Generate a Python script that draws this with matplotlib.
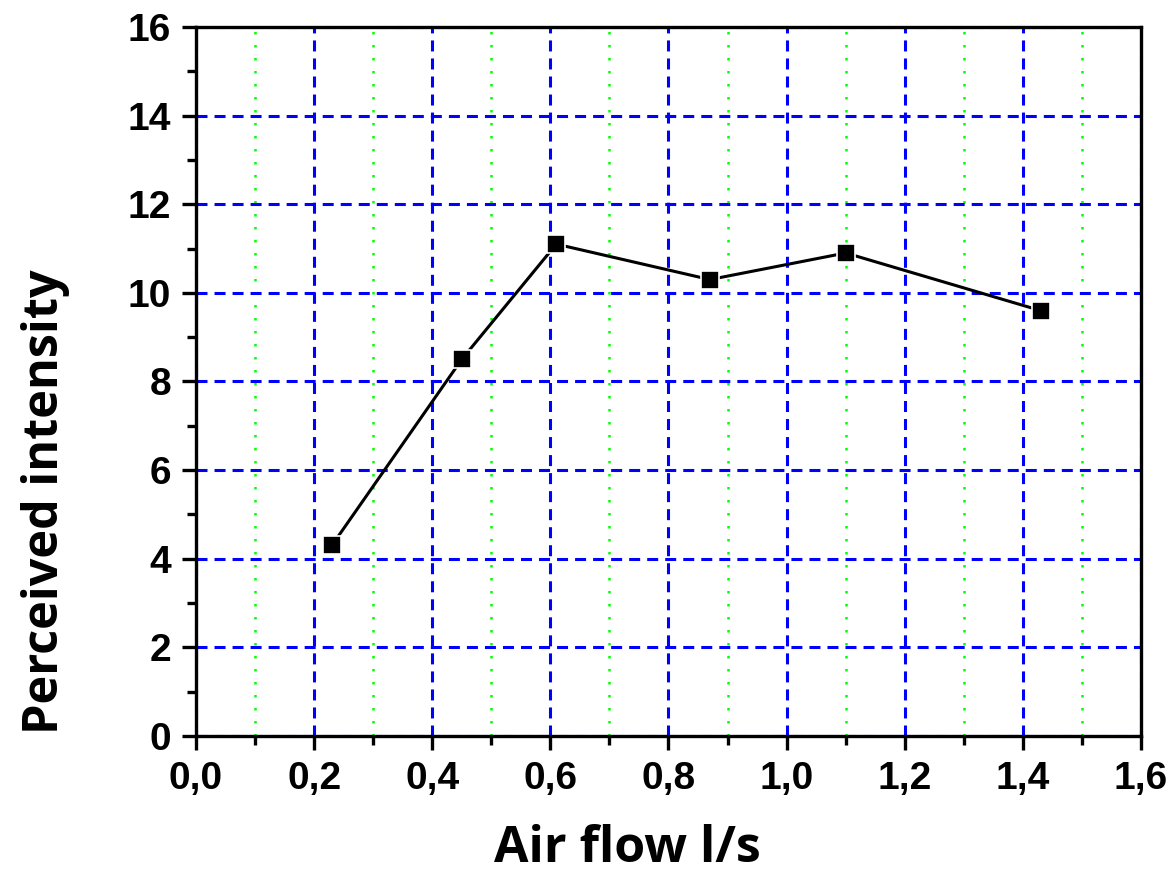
import numpy as np
import matplotlib
matplotlib.use("Agg")
import matplotlib.pyplot as plt
from matplotlib.ticker import MultipleLocator, FuncFormatter

# data
air_flow = [0.23, 0.45, 0.61, 0.87, 1.10, 1.43]
intensity = [4.3, 8.5, 11.1, 10.3, 10.9, 9.6]

x_label = "Air flow l/s"
y_label = "Perceived intensity"

fig = plt.figure(figsize=(11.73, 8.91), dpi=100)
ax = fig.add_axes([0.1671, 0.174, 0.8056, 0.7957])

ax.set_xlim(0, 1.6)
ax.set_ylim(0, 16)

# grid: blue dashed major, green dotted minor on x
ax.xaxis.set_major_locator(MultipleLocator(0.2))
ax.xaxis.set_minor_locator(MultipleLocator(0.1))
ax.yaxis.set_major_locator(MultipleLocator(2))
ax.yaxis.set_minor_locator(MultipleLocator(1))
ax.grid(which="major", color="#0000ff", linewidth=2.2, linestyle=(0, (3.6, 2.3)))
ax.xaxis.grid(which="minor", color="#00ff00", linewidth=1.8, linestyle=(0, (1, 4.2)))
ax.set_axisbelow(True)

ax.plot(air_flow, intensity, color="black", linewidth=2.2, marker="s",
        markersize=13, markerfacecolor="black", markeredgecolor="white",
        markeredgewidth=1.2, zorder=3)

for sp in ax.spines.values():
    sp.set_linewidth(2.4)

ax.tick_params(which="major", direction="out", length=10, width=2.4,
               top=False, right=False, pad=8)
ax.tick_params(which="minor", direction="out", length=6.5, width=2.4,
               top=False, right=False)

ax.xaxis.set_major_formatter(FuncFormatter(lambda v, p: f"{v:.1f}".replace(".", ",")))
ax.yaxis.set_major_formatter(FuncFormatter(lambda v, p: f"{v:.0f}"))

for lab in ax.get_xticklabels() + ax.get_yticklabels():
    lab.set_fontfamily("Liberation Sans")
    lab.set_fontweight("bold")
    lab.set_fontsize(28)

fig.text(0.535, 0.047, x_label, ha="center", va="center",
         fontfamily="Open Sans", fontweight="bold", fontsize=36)
fig.text(0.039, 0.437, y_label, ha="center", va="center", rotation=90,
         fontfamily="Open Sans", fontweight="bold", fontsize=35)

fig.savefig("out.png", dpi=100)
